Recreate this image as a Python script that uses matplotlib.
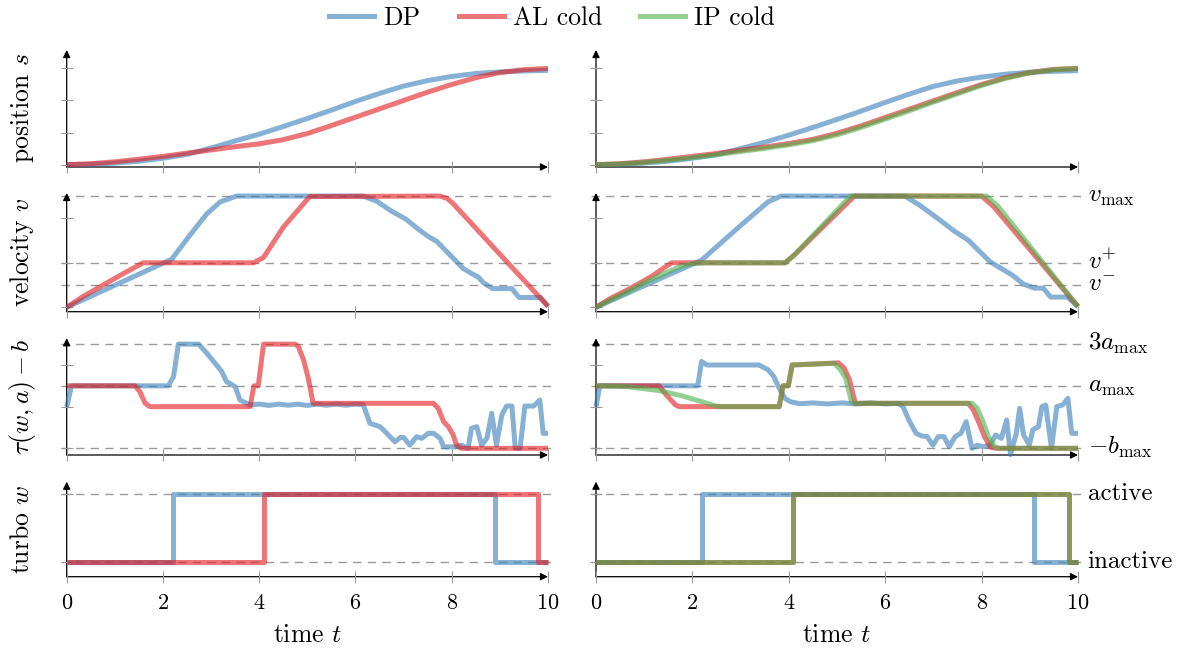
import matplotlib
matplotlib.use("Agg")
import matplotlib.pyplot as plt
import numpy as np
from matplotlib.transforms import blended_transform_factory, ScaledTranslation
from matplotlib.lines import Line2D

plt.rcParams.update({
    "font.family": "serif",
    "font.serif": ["cmr10", "DejaVu Serif"],
    "mathtext.fontset": "cm",
    "axes.formatter.use_mathtext": True,
})

# ---------------- data ----------------
t_pos = [0, 0.5, 1, 1.5, 2, 2.5, 3, 3.5, 4, 4.5, 5, 5.5, 6, 6.5, 7, 7.5, 8, 8.5, 9, 9.5, 10]
pos_dp_left = [0, 0.01, 0.05, 0.11, 0.2, 0.32, 0.52, 0.74, 0.95, 1.19, 1.44, 1.7, 1.97, 2.22, 2.45, 2.62, 2.75, 2.84, 2.89, 2.92, 2.94]
pos_al_left = [0, 0.03, 0.09, 0.17, 0.26, 0.36, 0.46, 0.56, 0.65, 0.78, 0.97, 1.22, 1.48, 1.74, 2.0, 2.26, 2.5, 2.71, 2.87, 2.96, 3.0]
pos_dp_right = [0, 0.01, 0.05, 0.11, 0.2, 0.31, 0.5, 0.7, 0.92, 1.16, 1.41, 1.67, 1.94, 2.2, 2.44, 2.61, 2.73, 2.82, 2.88, 2.91, 2.93]
pos_al_right = [0, 0.03, 0.09, 0.17, 0.26, 0.35, 0.45, 0.55, 0.66, 0.79, 0.98, 1.21, 1.47, 1.73, 1.99, 2.25, 2.5, 2.71, 2.87, 2.97, 3.0]
pos_ip_right = [0, 0.02, 0.07, 0.14, 0.22, 0.31, 0.41, 0.51, 0.62, 0.75, 0.93, 1.16, 1.42, 1.68, 1.95, 2.21, 2.47, 2.69, 2.86, 2.96, 3.0]

vel_dp_left = [(0, 0), (2.18, 10.8), (2.56, 16.2), (2.91, 21.0), (3.19, 23.7), (3.53, 25.0), (6.16, 25.0),
               (6.45, 23.8), (6.75, 21.6), (7.05, 19.8), (7.3, 17.6), (7.5, 16.0), (7.69, 14.8), (7.96, 11.8),
               (8.24, 8.7), (8.41, 7.6), (8.55, 6.8), (8.66, 5.5), (8.85, 4.2), (9.25, 4.2), (9.4, 2.2),
               (9.85, 2.2), (10.0, 0.2)]
vel_al_left = [(0, 0), (0.35, 2.5), (0.69, 4.6), (1.0, 6.5), (1.18, 7.6), (1.4, 8.9), (1.59, 10.0), (3.88, 10.0),
               (4.09, 11.2), (4.5, 18.0), (5.05, 24.9), (7.75, 25.0), (7.9, 24.5), (8.03, 23.3), (10.0, 0.2)]
vel_dp_right = [(0, 0), (2.19, 10.6), (2.96, 18.0), (3.57, 23.7), (3.84, 25.0), (6.41, 25.0), (6.72, 22.9),
                (7.1, 19.9), (7.41, 17.3), (7.72, 15.1), (8.18, 10.2), (8.41, 8.7), (8.64, 7.2), (8.87, 5.2),
                (9.1, 4.3), (9.28, 4.3), (9.43, 2.3), (9.78, 2.3), (10.0, 0.15)]
vel_al_right = [(0, 0), (0.3, 2.0), (0.65, 3.9), (1.0, 6.0), (1.19, 7.2), (1.4, 8.8), (1.57, 10.0), (3.92, 10.0),
                (4.11, 11.7), (5.36, 25.0), (8.0, 25.0), (8.26, 22.5), (10.0, 0.15)]
vel_ip_right = [(0, 0), (0.65, 3.5), (1.19, 6.5), (1.73, 9.1), (2.0, 9.8), (2.25, 10.0), (3.92, 10.0),
                (4.11, 11.7), (5.28, 25.0), (8.1, 25.0), (8.35, 22.6), (10.0, 0.15)]

tau_dp_left = [(0, 0), (0.1, 1), (2.11, 1), (2.22, 1.44), (2.32, 3), (2.74, 3), (2.91, 2.57), (3.08, 2.09),
               (3.22, 1.69), (3.32, 1.2), (3.5, 0.96), (3.6, 0.32), (3.81, 0.08), (4.0, 0.12), (4.2, 0.06),
               (4.4, 0.12), (4.6, 0.07), (4.8, 0.12), (5.0, 0.06), (5.2, 0.12), (5.4, 0.07), (5.6, 0.12),
               (5.8, 0.07), (6.0, 0.12), (6.16, 0.1), (6.3, -0.8), (6.51, -0.96), (6.65, -1.28), (6.82, -1.69),
               (6.93, -1.48), (7.0, -1.48), (7.13, -1.85), (7.27, -1.44), (7.38, -1.52), (7.51, -1.28),
               (7.62, -1.28), (7.76, -1.52), (7.83, -1.93), (8.07, -1.93), (8.2, -1.85), (8.34, -2.0),
               (8.41, -1.04), (8.52, -0.96), (8.62, -1.85), (8.73, -1.52), (8.83, -0.32), (8.93, -1.85),
               (9.04, -0.4), (9.14, 0.03), (9.25, 0.03), (9.32, -2.0), (9.42, -2.0), (9.52, 0.03), (9.7, 0.03),
               (9.83, 0.32), (9.9, -1.28), (10.0, -1.28)]
tau_al_left = [(0, 1), (1.42, 1), (1.52, 0.72), (1.63, 0.16), (1.73, 0), (3.81, 0), (3.89, 1), (3.98, 1),
               (4.09, 3), (4.74, 3), (4.81, 2.9), (4.92, 2.25), (5.02, 1.36), (5.12, 0.16), (7.62, 0.16),
               (7.72, -0.08), (7.83, -0.72), (7.93, -0.96), (8.03, -1.36), (8.1, -1.85), (8.2, -2), (10, -2)]
tau_dp_right = [(0, 0), (0.08, 1), (2.11, 1), (2.19, 2.17), (2.3, 2.0), (3.38, 2.0), (3.57, 1.77), (3.69, 1.44),
                (3.8, 0.88), (3.92, 0.4), (4.03, 0.24), (4.22, 0.14), (4.5, 0.18), (4.8, 0.13), (5.1, 0.18),
                (5.4, 0.13), (5.7, 0.18), (6.0, 0.13), (6.26, 0.16), (6.37, 0), (6.49, -0.64), (6.64, -1.28),
                (6.76, -1.41), (6.87, -1.44), (6.99, -1.85), (7.1, -1.44), (7.22, -1.44), (7.33, -1.93),
                (7.45, -1.44), (7.57, -1.28), (7.68, -0.72), (7.8, -2), (7.91, -1.85), (8.03, -1.93),
                (8.18, -1.85), (8.29, -1.36), (8.41, -1.52), (8.52, -0.64), (8.6, -2.3), (8.72, -1.28),
                (8.79, -0.08), (8.87, -1.36), (8.99, -1.85), (9.06, -1.12), (9.18, -0.96), (9.25, 0),
                (9.33, 0.08), (9.45, -2), (9.56, 0), (9.68, 0.08), (9.79, 0.4), (9.87, -1.28), (10, -1.28)]
tau_al_right = [(0, 1), (1.31, 1), (1.46, 0.56), (1.65, 0.08), (1.73, 0), (3.8, 0), (3.88, 1), (3.99, 1),
                (4.07, 2.0), (5.03, 2.1), (5.15, 1.85), (5.26, 1.28), (5.38, 0.16), (7.72, 0.16), (7.83, -0.16),
                (7.95, -0.8), (8.06, -1.44), (8.18, -1.93), (8.29, -2), (10, -2)]
tau_ip_right = [(0, 1), (0.65, 0.96), (1.31, 0.77), (1.8, 0.51), (2.19, 0.24), (2.46, 0.05), (2.57, 0),
                (3.8, 0), (3.88, 1), (3.99, 1), (4.07, 2.0), (4.95, 2.08), (5.07, 1.77), (5.18, 1.36),
                (5.3, 0.24), (5.34, 0.16), (7.8, 0.16), (7.91, -0.08), (8.03, -0.72), (8.14, -1.44),
                (8.26, -1.9), (8.37, -2), (10, -2)]

turbo_dp_left = [(0, 0), (2.21, 1), (8.9, 0), (10, 0)]
turbo_al_left = [(0, 0), (4.09, 1), (9.8, 0), (10, 0)]
turbo_dp_right = [(0, 0), (2.19, 1), (9.09, 0), (10, 0)]
turbo_al_right = [(0, 0), (4.09, 1), (9.82, 0), (10, 0)]
turbo_ip_right = [(0, 0), (4.09, 1), (9.82, 0), (10, 0)]

series_names = ["DP", "AL cold", "IP cold"]
colors = {"DP": "#377eb8", "AL cold": "#e41a1c", "IP cold": "#4daf4a"}
x_ticks = [0, 2, 4, 6, 8, 10]
row_labels = ["position $s$", "velocity $v$", r"$\tau(w,a)-b$", "turbo $w$"]
row_yticks = [[0, 1, 2, 3], [0, 10, 20], [-2, 0, 2], [0, 1]]
row_dashed = [[], [25, 10, 5], [3, 1, -2], [1, 0]]
right_labels = [[], [r"$v_{\max}$", r"$v^{+}$", r"$v^{-}$"],
                [r"$3a_{\max}$", r"$a_{\max}$", r"$-b_{\max}$"], ["active", "inactive"]]

# ---------------- layout ----------------
W, H = 1178, 649
fig = plt.figure(figsize=(W / 100, H / 100), dpi=100)
col_px = [(66.7, 548.0), (596.0, 1078.0)]
row_px = [(50, 167), (193, 311.7), (338.3, 455), (481.7, 576.7)]
row_ylim = [(-0.072, 3.573), (-0.99, 25.69), (-2.32, 3.28), (-0.21, 1.18)]

def pairs(p):
    a = np.array(p, dtype=float)
    return a[:, 0], a[:, 1]

data = {
    0: {0: [("DP", t_pos, pos_dp_left), ("AL cold", t_pos, pos_al_left)],
        1: [("DP",) + pairs(vel_dp_left), ("AL cold",) + pairs(vel_al_left)],
        2: [("DP",) + pairs(tau_dp_left), ("AL cold",) + pairs(tau_al_left)],
        3: [("DP",) + pairs(turbo_dp_left), ("AL cold",) + pairs(turbo_al_left)]},
    1: {0: [("DP", t_pos, pos_dp_right), ("AL cold", t_pos, pos_al_right), ("IP cold", t_pos, pos_ip_right)],
        1: [("DP",) + pairs(vel_dp_right), ("AL cold",) + pairs(vel_al_right), ("IP cold",) + pairs(vel_ip_right)],
        2: [("DP",) + pairs(tau_dp_right), ("AL cold",) + pairs(tau_al_right), ("IP cold",) + pairs(tau_ip_right)],
        3: [("DP",) + pairs(turbo_dp_right), ("AL cold",) + pairs(turbo_al_right), ("IP cold",) + pairs(turbo_ip_right)]},
}

LW = 3.6
ALPHA = 0.6
GRAY = "#9a9a9a"

for c in range(2):
    x0, x1 = col_px[c]
    for r in range(4):
        y0, y1 = row_px[r]
        ax = fig.add_axes([x0 / W, 1 - y1 / H, (x1 - x0) / W, (y1 - y0) / H])
        ax.set_xlim(0, 10)
        ax.set_ylim(*row_ylim[r])
        for s in ax.spines.values():
            s.set_visible(False)
        ax.set_xticks(x_ticks)
        ax.set_yticks(row_yticks[r])
        ax.tick_params(direction="inout", length=8, width=0.8, color=GRAY,
                       labelleft=False, labelbottom=(r == 3), labelsize=16, pad=8)
        tr = blended_transform_factory(ax.transAxes, ax.transData)
        for val in row_dashed[r]:
            ax.plot([-0.011, 1.014], [val, val], transform=tr, color=GRAY, lw=1.0,
                    dashes=(6, 4.5), clip_on=False, zorder=1)
        if c == 1:
            tr_lab = tr + ScaledTranslation(0, -4.2 / 72, fig.dpi_scale_trans)
            for val, lab in zip(row_dashed[r], right_labels[r]):
                ax.text(1.02, val, lab, transform=tr_lab, ha="left", va="baseline", fontsize=18)
        # axis arrows
        ax.annotate("", xy=(1, 0), xytext=(0, 0), xycoords="axes fraction", textcoords="axes fraction",
                    arrowprops=dict(arrowstyle="-|>", color="k", lw=0.9, shrinkA=0, shrinkB=0,
                                    mutation_scale=11), zorder=1.5)
        ax.annotate("", xy=(0, 1), xytext=(0, 0), xycoords="axes fraction", textcoords="axes fraction",
                    arrowprops=dict(arrowstyle="-|>", color="k", lw=0.9, shrinkA=0, shrinkB=0,
                                    mutation_scale=11), zorder=1.5)
        for name, tt, vv in data[c][r]:
            kw = dict(color=colors[name], lw=LW, alpha=ALPHA, zorder=3, clip_on=False,
                      solid_joinstyle="round", solid_capstyle="butt")
            if r == 3:
                ax.plot(tt, vv, drawstyle="steps-post", **kw)
            else:
                ax.plot(tt, vv, **kw)
        if c == 0:
            fig.text(22 / W, 1 - (y0 + y1) / 2 / H, row_labels[r], rotation=90,
                     ha="center", va="center", fontsize=18.5)
    fig.text((x0 + x1) / 2 / W, 1 - 635 / H, "time $t$", ha="center", va="center", fontsize=18.5)

handles = [Line2D([], [], color=colors[n], lw=LW, alpha=ALPHA) for n in series_names]
fig.legend(handles, series_names, loc="center", bbox_to_anchor=(552 / W, 1 - 18 / H), ncol=3,
           frameon=False, fontsize=18.5, handlelength=1.75, handletextpad=0.35, columnspacing=1.5,
           borderpad=0.1)

fig.savefig("out.png", dpi=100)
